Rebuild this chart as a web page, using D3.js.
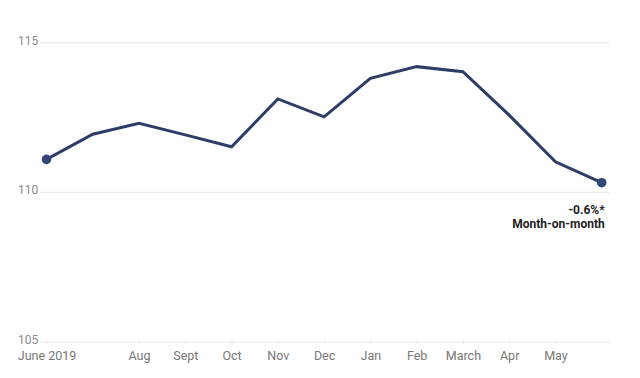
<!DOCTYPE html>
<html>
<head>
<meta charset="utf-8">
<script src="https://cdn.jsdelivr.net/npm/d3@7"></script>
<style>
  html, body { margin: 0; padding: 0; background: #fff; }
  svg { display: block; font-family: Roboto, "Open Sans", sans-serif; }
</style>
</head>
<body>
<svg id="chart" width="640" height="378"></svg>
<script>
const months = ["June 2019", "July", "Aug", "Sept", "Oct", "Nov", "Dec", "Jan", "Feb", "March", "Apr", "May", "June 2020"];
const tickLabels = ["June 2019", "", "Aug", "Sept", "Oct", "Nov", "Dec", "Jan", "Feb", "March", "Apr", "May", ""];
const values = [111.10, 111.94, 112.31, 111.92, 111.52, 113.12, 112.52, 113.81, 114.20, 114.03, 112.58, 111.02, 110.32];
const yTicks = [105, 110, 115];
const annotation = ["-0.6%*", "Month-on-month"];

const svg = d3.select("#chart");
const x = d3.scalePoint().domain(months).range([46.5, 601.7]);
const y = d3.scaleLinear().domain([105, 115]).range([341.9, 42.7]);

const lineColor = "#2e3d67";

// gridlines
svg.append("g").selectAll("line").data(yTicks).join("line")
  .attr("x1", 40).attr("x2", 610)
  .attr("y1", d => y(d)).attr("y2", d => y(d))
  .attr("stroke", "#e8e8e8").attr("stroke-width", 1);

// y labels
svg.append("g").selectAll("text").data(yTicks).join("text")
  .attr("x", 18).attr("y", d => y(d) + 2)
  .attr("fill", "#8a8a8a").attr("font-size", 12)
  .text(d => d);

// x axis
const xAxis = d3.axisBottom(x).tickSize(3).tickFormat((d, i) => tickLabels[i]);
const gx = svg.append("g").attr("transform", `translate(0,${y(105) - 1})`).call(xAxis);
gx.select(".domain").remove();
gx.selectAll(".tick line").attr("stroke", "#e4e4e4");
gx.selectAll(".tick text").attr("fill", "#777").attr("font-size", 12.5)
  .attr("font-family", "Roboto, sans-serif").attr("y", 7).attr("dy", "0.95em");
gx.selectAll(".tick").filter((d, i) => tickLabels[i] === "").select("line").remove();

// line
const line = d3.line().x((d, i) => x(months[i])).y(d => y(d));
svg.append("path").datum(values)
  .attr("d", line)
  .attr("fill", "none").attr("stroke", lineColor)
  .attr("stroke-width", 3).attr("stroke-linejoin", "miter");

// end dots
const ends = [0, values.length - 1];
svg.append("g").selectAll("circle").data(ends).join("circle")
  .attr("cx", i => x(months[i])).attr("cy", i => y(values[i]))
  .attr("r", 4.8).attr("fill", "#33467a");

// annotation
const last = values.length - 1;
svg.append("g").selectAll("text").data(annotation).join("text")
  .attr("x", x(months[last]) + 3)
  .attr("y", (d, i) => y(values[last]) + 31 + i * 14)
  .attr("text-anchor", "end")
  .attr("font-weight", "bold").attr("font-size", 12)
  .attr("fill", "#222")
  .text(d => d);
</script>
</body>
</html>
